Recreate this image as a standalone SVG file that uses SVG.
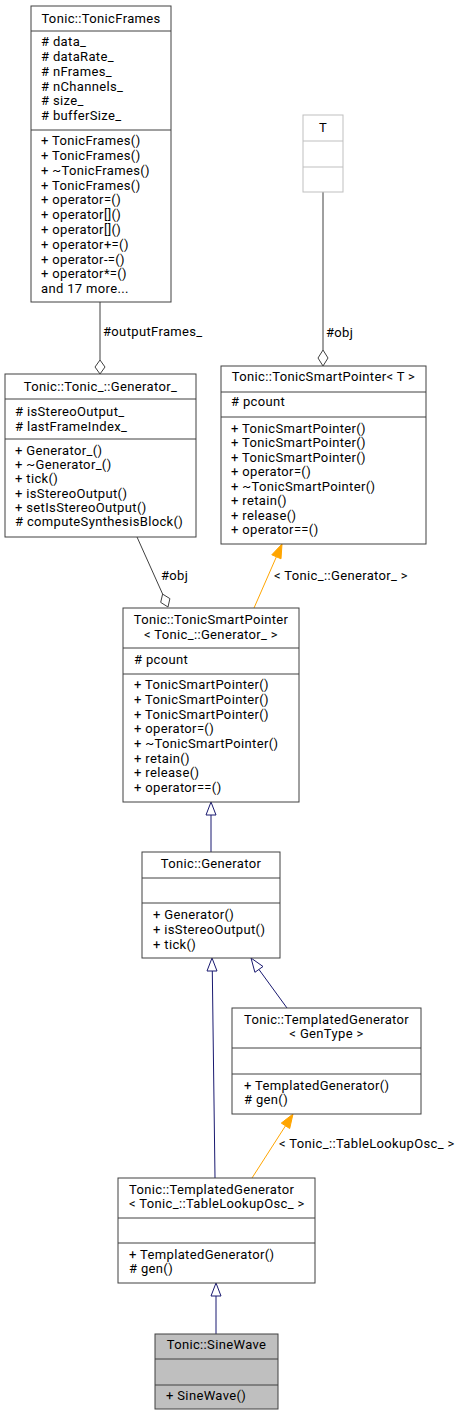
<svg xmlns="http://www.w3.org/2000/svg" width="459" height="1416" viewBox="0 0 459 1416">
<style>
text{font-family:Roboto,"Liberation Sans",sans-serif;font-size:13px;letter-spacing:0.35px;fill:#000}
.c{text-anchor:middle}
.box{fill:#fff;stroke:#404040;stroke-width:1}
.sep{stroke:#404040;stroke-width:1}
.gbox{fill:#fff;stroke:#bfbfbf;stroke-width:1}
.gsep{stroke:#bfbfbf;stroke-width:1}
.agg{stroke:#404040;fill:none;stroke-width:1}
.dia{fill:#fff;stroke:#404040;stroke-width:1}
.inh{stroke:#191970;fill:none;stroke-width:1}
.tri{fill:#fff;stroke:#191970;stroke-width:1}
.tpl{stroke:#ffa500;fill:none;stroke-width:1}
.otri{fill:#ffa500;stroke:#ffa500;stroke-width:1}
</style>
<rect width="459" height="1416" fill="#fff"/>
<g id="connectors">
  <line class="agg" x1="100" y1="302" x2="100" y2="360"/>
  <polygon class="dia" points="100,374 105,367 100,360 95,367"/>
  <text x="103" y="336">#outputFrames_</text>
  <line class="agg" x1="323" y1="192" x2="323" y2="350"/>
  <polygon class="dia" points="323,366 328,358 323,350 318,358"/>
  <text x="326" y="337">#obj</text>
  <line class="agg" x1="137" y1="537" x2="162.6" y2="594"/>
  <polygon class="dia" points="168,607 169.9,598.6 162.6,594.1 160.7,602.4"/>
  <text x="161" y="580">#obj</text>
  <line class="tpl" x1="254" y1="608" x2="276.4" y2="556.8"/>
  <polygon class="otri" points="282,544 281,558.8 271.8,554.8"/>
  <text x="274" y="580">&lt; Tonic_::Generator_ &gt;</text>
  <line class="inh" x1="211" y1="852" x2="211" y2="815"/>
  <polygon class="tri" points="211,802 216,815 206,815"/>
  <line class="inh" x1="215" y1="1178" x2="212.3" y2="971"/>
  <polygon class="tri" points="212,958 217,971 207,971"/>
  <line class="inh" x1="287" y1="1008" x2="258.9" y2="969.4"/>
  <polygon class="tri" points="251,958 263,966.5 254.9,972.3"/>
  <line class="tpl" x1="252" y1="1178" x2="285.5" y2="1125.8"/>
  <polygon class="otri" points="293,1114 289.7,1128.5 281.3,1123.1"/>
  <text x="279" y="1148">&lt; Tonic_::TableLookupOsc_ &gt;</text>
  <line class="inh" x1="216" y1="1334" x2="216" y2="1296"/>
  <polygon class="tri" points="216,1283 221,1296 211,1296"/>
</g>
<g id="TonicFrames">
  <rect class="box" x="31" y="6" width="140" height="296"/>
  <line class="sep" x1="31" y1="31" x2="171" y2="31"/>
  <line class="sep" x1="31" y1="130" x2="171" y2="130"/>
  <text class="c" x="101" y="22.7">Tonic::TonicFrames</text>
  <text x="41" y="46.2"># data_</text>
  <text x="41" y="61"># dataRate_</text>
  <text x="41" y="75.8"># nFrames_</text>
  <text x="41" y="90.6"># nChannels_</text>
  <text x="41" y="105.4"># size_</text>
  <text x="41" y="120.2"># bufferSize_</text>
  <text x="41" y="145.2">+ TonicFrames()</text>
  <text x="41" y="160">+ TonicFrames()</text>
  <text x="41" y="174.8">+ ~TonicFrames()</text>
  <text x="41" y="189.6">+ TonicFrames()</text>
  <text x="41" y="204.4">+ operator=()</text>
  <text x="41" y="219.2">+ operator[]()</text>
  <text x="41" y="234">+ operator[]()</text>
  <text x="41" y="248.8">+ operator+=()</text>
  <text x="41" y="263.6">+ operator-=()</text>
  <text x="41" y="278.4">+ operator*=()</text>
  <text x="41" y="293.2">and 17 more...</text>
</g>
<g id="T">
  <rect class="gbox" x="303" y="115" width="40" height="77"/>
  <line class="gsep" x1="303" y1="141" x2="343" y2="141"/>
  <line class="gsep" x1="303" y1="167" x2="343" y2="167"/>
  <text class="c" x="323" y="132">T</text>
</g>
<g id="Generator_">
  <rect class="box" x="5" y="374" width="191" height="163"/>
  <line class="sep" x1="5" y1="399" x2="196" y2="399"/>
  <line class="sep" x1="5" y1="439" x2="196" y2="439"/>
  <text class="c" x="100.5" y="390.5">Tonic::Tonic_::Generator_</text>
  <text x="15" y="415.8"># isStereoOutput_</text>
  <text x="15" y="430.5"># lastFrameIndex_</text>
  <text x="15" y="455.2">+ Generator_()</text>
  <text x="15" y="469.3">+ ~Generator_()</text>
  <text x="15" y="483.4">+ tick()</text>
  <text x="15" y="497.5">+ isStereoOutput()</text>
  <text x="15" y="511.6">+ setIsStereoOutput()</text>
  <text x="15" y="525.8"># computeSynthesisBlock()</text>
</g>
<g id="TonicSmartPointerT">
  <rect class="box" x="221" y="366" width="205" height="178"/>
  <line class="sep" x1="221" y1="392" x2="426" y2="392"/>
  <line class="sep" x1="221" y1="417" x2="426" y2="417"/>
  <text class="c" x="323.5" y="380.5">Tonic::TonicSmartPointer&lt; T &gt;</text>
  <text x="231" y="406"># pcount</text>
  <text x="231" y="432.5">+ TonicSmartPointer()</text>
  <text x="231" y="447">+ TonicSmartPointer()</text>
  <text x="231" y="461.5">+ TonicSmartPointer()</text>
  <text x="231" y="476">+ operator=()</text>
  <text x="231" y="490.5">+ ~TonicSmartPointer()</text>
  <text x="231" y="505">+ retain()</text>
  <text x="231" y="519.5">+ release()</text>
  <text x="231" y="534">+ operator==()</text>
</g>
<g id="TonicSmartPointerGenerator">
  <rect class="box" x="123" y="608" width="176" height="194"/>
  <line class="sep" x1="123" y1="648" x2="299" y2="648"/>
  <line class="sep" x1="123" y1="674" x2="299" y2="674"/>
  <text class="c" x="211" y="624.2">Tonic::TonicSmartPointer</text>
  <text class="c" x="211" y="638.5">&lt; Tonic_::Generator_ &gt;</text>
  <text x="134" y="664.2"># pcount</text>
  <text x="134" y="689.2">+ TonicSmartPointer()</text>
  <text x="134" y="703.9">+ TonicSmartPointer()</text>
  <text x="134" y="718.5">+ TonicSmartPointer()</text>
  <text x="134" y="733.2">+ operator=()</text>
  <text x="134" y="747.8">+ ~TonicSmartPointer()</text>
  <text x="134" y="762.5">+ retain()</text>
  <text x="134" y="777.1">+ release()</text>
  <text x="134" y="791.8">+ operator==()</text>
</g>
<g id="Generator">
  <rect class="box" x="142" y="852" width="138" height="106"/>
  <line class="sep" x1="142" y1="878" x2="280" y2="878"/>
  <line class="sep" x1="142" y1="903" x2="280" y2="903"/>
  <text class="c" x="211" y="867.8">Tonic::Generator</text>
  <text x="153" y="918.5">+ Generator()</text>
  <text x="153" y="933.5">+ isStereoOutput()</text>
  <text x="153" y="948.5">+ tick()</text>
</g>
<g id="TemplatedGeneratorGenType">
  <rect class="box" x="232" y="1008" width="189" height="106"/>
  <line class="sep" x1="232" y1="1048" x2="421" y2="1048"/>
  <line class="sep" x1="232" y1="1074" x2="421" y2="1074"/>
  <text class="c" x="326.5" y="1024.2">Tonic::TemplatedGenerator</text>
  <text class="c" x="326.5" y="1037.8">&lt; GenType &gt;</text>
  <text x="244" y="1089.5">+ TemplatedGenerator()</text>
  <text x="244" y="1103.5"># gen()</text>
</g>
<g id="TemplatedGeneratorTableLookupOsc">
  <rect class="box" x="118" y="1178" width="197" height="105"/>
  <line class="sep" x1="118" y1="1218" x2="315" y2="1218"/>
  <line class="sep" x1="118" y1="1243" x2="315" y2="1243"/>
  <text x="129" y="1193.5">Tonic::TemplatedGenerator</text>
  <text x="129" y="1207.8">&lt; Tonic_::TableLookupOsc_ &gt;</text>
  <text x="129" y="1258.5">+ TemplatedGenerator()</text>
  <text x="129" y="1272.8"># gen()</text>
</g>
<g id="SineWave">
  <rect x="155" y="1334" width="123" height="75" fill="#bfbfbf" stroke="#404040" stroke-width="1"/>
  <line class="sep" x1="155" y1="1359" x2="278" y2="1359"/>
  <line class="sep" x1="155" y1="1385" x2="278" y2="1385"/>
  <text class="c" x="216.5" y="1349.2">Tonic::SineWave</text>
  <text x="166" y="1400.2">+ SineWave()</text>
</g>
</svg>
